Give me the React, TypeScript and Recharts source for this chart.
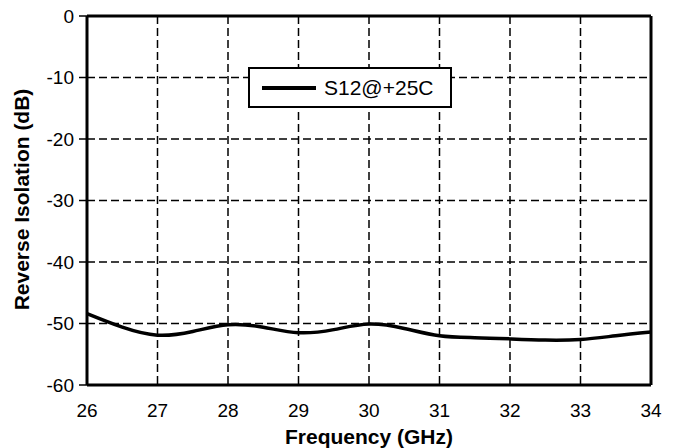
import { LineChart, Line, XAxis, YAxis, CartesianGrid } from 'recharts';

const freqGHz = [26, 26.5, 27, 27.5, 28, 28.5, 29, 29.5, 30, 30.5, 31, 31.5, 32, 32.5, 33, 33.5, 34];
const s12 = [-48.4, -50.6, -51.9, -51.3, -50.2, -50.6, -51.5, -51.0, -50.1, -50.8, -52.0, -52.3, -52.5, -52.7, -52.6, -52.0, -51.4];
const xTicks = [26, 27, 28, 29, 30, 31, 32, 33, 34];
const yTicks = [-60, -50, -40, -30, -20, -10, 0];
const seriesName = 'S12@+25C';

const data = freqGHz.map((f, i) => ({ f, s12: s12[i] }));

const FONT = '"Liberation Sans", Arial, sans-serif';

// legend drawn as an overlay so it doesn't shrink the plot area
function LegendBox() {
  return (
    <div
      style={{
        position: 'absolute',
        left: 248,
        top: 67,
        width: 200,
        height: 37,
        border: '2px solid #000',
        background: '#fff',
        display: 'flex',
        alignItems: 'center',
        fontFamily: FONT,
        fontSize: 21,
        color: '#000',
      }}
    >
      <div style={{ width: 54, height: 4, background: '#000', marginLeft: 12, marginRight: 8 }} />
      <span>{seriesName}</span>
    </div>
  );
}

function YLabel(props: any) {
  const vb = props.viewBox || { x: 0, y: 0, width: 0, height: 0 };
  const cx = 21;
  const cy = vb.y + vb.height / 2 - 1;
  return (
    <text
      x={cx}
      y={cy}
      transform={`rotate(-90 ${cx} ${cy})`}
      textAnchor="middle"
      dominantBaseline="central"
      fontFamily={FONT}
      fontWeight="bold"
      fontSize={21}
      fill="#000"
    >
      Reverse Isolation (dB)
    </text>
  );
}

export default function App() {
  return (
    <div style={{ position: 'absolute', left: 0, top: 0, width: 678, height: 448, background: '#fff' }}>
      <LineChart width={678} height={448} data={data} margin={{ top: 0, right: 0, bottom: 0, left: 0 }}>
        <CartesianGrid strokeDasharray="8 4" stroke="#000" strokeWidth={1.5} />
        <XAxis
          dataKey="f"
          type="number"
          domain={[26, 34]}
          ticks={xTicks}
          height={63}
          axisLine={{ stroke: '#000', strokeWidth: 3 }}
          tickLine={false}
          tickSize={10}
          tickMargin={9}
          tick={{ fill: '#000', fontSize: 19, fontFamily: FONT }}
          label={{
            value: 'Frequency (GHz)',
            position: 'insideBottom',
            offset: 4,
            fill: '#000',
            fontSize: 21,
            fontWeight: 'bold',
            fontFamily: FONT,
          }}
        />
        <XAxis
          xAxisId="top"
          orientation="top"
          dataKey="f"
          type="number"
          domain={[26, 34]}
          ticks={xTicks}
          height={16}
          axisLine={{ stroke: '#000', strokeWidth: 3 }}
          tickLine={{ stroke: '#000', strokeWidth: 1.5 }}
          tickSize={5}
          tick={false}
        />
        <YAxis
          type="number"
          domain={[-60, 0]}
          ticks={yTicks}
          width={87}
          axisLine={{ stroke: '#000', strokeWidth: 3 }}
          tickLine={{ stroke: '#000', strokeWidth: 1.5 }}
          tickSize={8}
          tickMargin={5}
          tick={{ fill: '#000', fontSize: 19, fontFamily: FONT }}
          label={<YLabel />}
        />
        <YAxis
          yAxisId="right"
          orientation="right"
          type="number"
          domain={[-60, 0]}
          ticks={yTicks}
          width={27}
          axisLine={{ stroke: '#000', strokeWidth: 3 }}
          tickLine={false}
          tick={false}
        />
        <Line
          type="natural"
          dataKey="s12"
          name={seriesName}
          stroke="#000"
          strokeWidth={3.5}
          dot={false}
          isAnimationActive={false}
        />
      </LineChart>
      <LegendBox />
    </div>
  );
}
